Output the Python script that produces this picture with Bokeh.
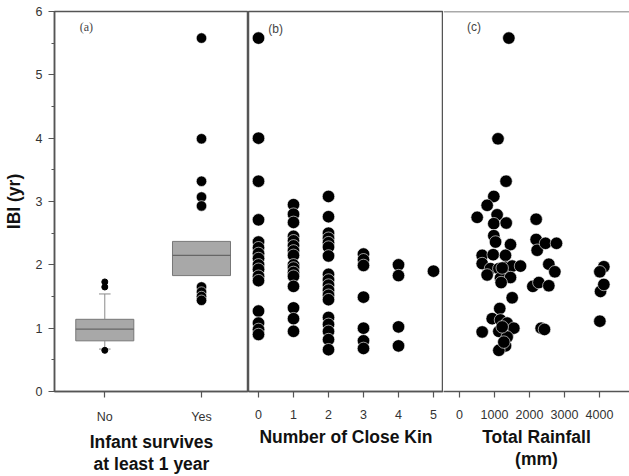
from bokeh.plotting import figure
from bokeh.layouts import row
from bokeh.models import Range1d, FixedTicker, Label, Span
from bokeh.embed import file_html
from bokeh.resources import INLINE

# ---------------- data ----------------
survival_cats = ["No", "Yes"]
box_q1 = [0.80, 1.83]
box_median = [0.985, 2.15]
box_q3 = [1.14, 2.37]
whisker_low = [0.67, None]
whisker_high = [1.54, None]
no_outliers = [1.73, 1.65, 0.65]
yes_outliers = [5.58, 3.99, 3.32, 3.07, 2.93, 1.65, 1.57, 1.50, 1.44]

kin_levels = [0, 1, 2, 3, 4, 5]
kin0_ibi = [5.58, 4.0, 3.32, 2.71, 2.36, 2.27, 2.18, 2.1, 2.0, 1.93, 1.82, 1.75, 1.27, 1.08, 0.98, 0.9]
kin1_ibi = [2.95, 2.8, 2.67, 2.45, 2.38, 2.3, 2.22, 2.15, 2.0, 1.95, 1.88, 1.82, 1.66, 1.32, 1.15, 0.95]
kin2_ibi = [3.08, 2.76, 2.5, 2.42, 2.35, 2.28, 2.14, 1.85, 1.76, 1.68, 1.6, 1.52, 1.45, 1.17, 1.06, 0.95, 0.82, 0.66]
kin3_ibi = [2.17, 2.08, 1.99, 1.49, 1.0, 0.8, 0.68]
kin4_ibi = [2.0, 1.83, 1.02, 0.72]
kin5_ibi = [1.9]

rain_mm = [1410, 1100, 1330, 980, 790, 505, 1075, 980, 1335, 2190,
           980, 1030, 1457, 648, 962, 1314, 648, 886, 1124, 1314,
           1505, 1743, 790, 1171, 1457, 2190, 2219, 2457, 2771, 2552,
           2724, 2095, 2267, 2552, 1505, 1150, 934, 1171, 1362, 1552,
           648, 1124, 1362, 1314, 1124, 2333, 2428, 4124, 4010, 4029,
           4124, 4010, 1220, 1190, 1220, 1267]
rain_ibi = [5.58, 3.99, 3.32, 3.08, 2.94, 2.75, 2.79, 2.65, 2.66, 2.72,
            2.46, 2.36, 2.32, 2.15, 2.16, 2.15, 2.02, 1.94, 1.94, 1.96,
            1.98, 1.98, 1.84, 1.79, 1.80, 2.40, 2.23, 2.34, 2.34, 2.01,
            1.89, 1.66, 1.72, 1.67, 1.48, 1.31, 1.15, 1.13, 1.08, 1.0,
            0.94, 0.95, 0.86, 0.72, 0.65, 1.0, 0.98, 1.97, 1.89, 1.58,
            1.69, 1.11, 1.95, 1.72, 1.02, 0.78]

y_ticks = [0, 1, 2, 3, 4, 5, 6]
rain_ticks = [0, 1000, 2000, 3000, 4000]

# ---------------- styling helpers ----------------
FRAME = "#555555"
TICK_FONT = "Liberation Sans"


def make_fig(width, x_range, min_left, with_y):
    p = figure(width=width, height=476, x_range=x_range, y_range=Range1d(0, 6),
               output_backend="svg", toolbar_location=None,
               min_border_left=min_left, min_border_right=0,
               min_border_top=11, min_border_bottom=83,
               y_axis_location="left" if with_y else None)
    p.grid.visible = False
    p.outline_line_color = FRAME
    p.outline_line_width = 1.5
    ax = p.xaxis[0]
    ax.axis_line_color = FRAME
    ax.axis_line_width = 1.5
    ax.major_tick_line_color = FRAME
    ax.major_tick_line_width = 1.2
    ax.major_tick_out = 6
    ax.major_tick_in = 0
    ax.minor_tick_line_color = None
    ax.major_label_text_font = TICK_FONT
    ax.major_label_text_font_size = "12.5px"
    ax.major_label_text_color = "#333333"
    ax.major_label_standoff = 12
    ax.axis_label_text_font = TICK_FONT
    ax.axis_label_text_font_style = "bold"
    ax.axis_label_text_font_size = "17.5px"
    ax.axis_label_text_color = "#111111"
    ax.axis_label_standoff = 5
    ax.axis_label_text_line_height = 1.1
    return p


# ---------------- panel (a) ----------------
pos = [i + 1 for i in range(len(survival_cats))]
p1 = make_fig(248, Range1d(0.48, 2.486), 54, True)
p1.xaxis.ticker = FixedTicker(ticks=pos)
p1.xaxis.major_label_overrides = {pos[i]: survival_cats[i] for i in range(len(pos))}
p1.xaxis.axis_label = "Infant survives\nat least 1 year"

ya = p1.yaxis[0]
ya.ticker = FixedTicker(ticks=y_ticks, minor_ticks=[t + 0.5 for t in y_ticks[:-1]])
ya.axis_line_color = FRAME
ya.axis_line_width = 1.5
ya.major_tick_line_color = FRAME
ya.major_tick_out = 6
ya.major_tick_in = 0
ya.minor_tick_line_color = FRAME
ya.minor_tick_out = 3
ya.minor_tick_in = 0
ya.major_label_text_font = TICK_FONT
ya.major_label_text_font_size = "12.5px"
ya.major_label_text_color = "#333333"
ya.major_label_standoff = 6
ya.axis_label = "IBI (yr)"
ya.axis_label_text_font = TICK_FONT
ya.axis_label_text_font_style = "bold"
ya.axis_label_text_font_size = "17.5px"
ya.axis_label_text_color = "#111111"
ya.axis_label_standoff = 9

# boxes
p1.vbar(x=pos, width=0.6, bottom=box_q1, top=box_q3,
        fill_color="#a8a8a8", line_color="#777777", line_width=1)
p1.segment(x0=[x - 0.3 for x in pos], x1=[x + 0.3 for x in pos],
           y0=box_median, y1=box_median, line_color="#666666", line_width=1.2)
# whiskers where present
for i, x in enumerate(pos):
    if whisker_high[i] is not None:
        p1.segment(x0=[x, x - 0.06], x1=[x, x + 0.06],
                   y0=[box_q3[i], whisker_high[i]], y1=[whisker_high[i], whisker_high[i]],
                   line_color="#8a8a8a", line_width=1)
    if whisker_low[i] is not None:
        p1.segment(x0=[x, x - 0.06], x1=[x, x + 0.06],
                   y0=[box_q1[i], whisker_low[i]], y1=[whisker_low[i], whisker_low[i]],
                   line_color="#8a8a8a", line_width=1)
p1.scatter(x=[pos[0]] * len(no_outliers), y=no_outliers, size=6,
           fill_color="black", line_color="black")
p1.scatter(x=[pos[1]] * len(yes_outliers), y=yes_outliers, size=10.5,
           fill_color="black", line_color="white", line_width=0.6)
p1.add_layout(Label(x=0.81, y=5.75, text="(a)", text_font="Liberation Serif",
                    text_font_size="12px", text_color="#444444",
                    text_align="center", text_baseline="middle"))

# ---------------- panel (b) ----------------
p2 = make_fig(195, Range1d(-0.286, 5.286), 0, False)
p2.xaxis.ticker = FixedTicker(ticks=kin_levels)
p2.xaxis.axis_label = "Number of Close Kin"
kin_lists = [kin0_ibi, kin1_ibi, kin2_ibi, kin3_ibi, kin4_ibi, kin5_ibi]
kx, ky = [], []
for lvl, vals in zip(kin_levels, kin_lists):
    kx += [lvl] * len(vals)
    ky += vals
p2.scatter(x=kx, y=ky, size=12.5, fill_color="black", line_color="white", line_width=0.6)
p2.add_layout(Label(x=0.49, y=5.73, text="(b)", text_font=TICK_FONT,
                    text_font_size="12px", text_color="#444444",
                    text_align="center", text_baseline="middle"))

# ---------------- panel (c) ----------------
p3 = make_fig(186, Range1d(-457, 4857), 0, False)
p3.outline_line_color = None
p3.add_layout(Span(location=6, dimension="width", line_color=FRAME, line_width=1.5))
p3.xaxis.ticker = FixedTicker(ticks=rain_ticks)
p3.xaxis.axis_label = "Total Rainfall\n(mm)"
p3.scatter(x=rain_mm, y=rain_ibi, size=12.5, fill_color="black", line_color="white", line_width=0.6)
p3.add_layout(Label(x=414, y=5.75, text="(c)", text_font=TICK_FONT,
                    text_font_size="12px", text_color="#444444",
                    text_align="center", text_baseline="middle"))

layout = row(p1, p2, p3, spacing=0)
open("out.html", "w").write(file_html(layout, INLINE))
